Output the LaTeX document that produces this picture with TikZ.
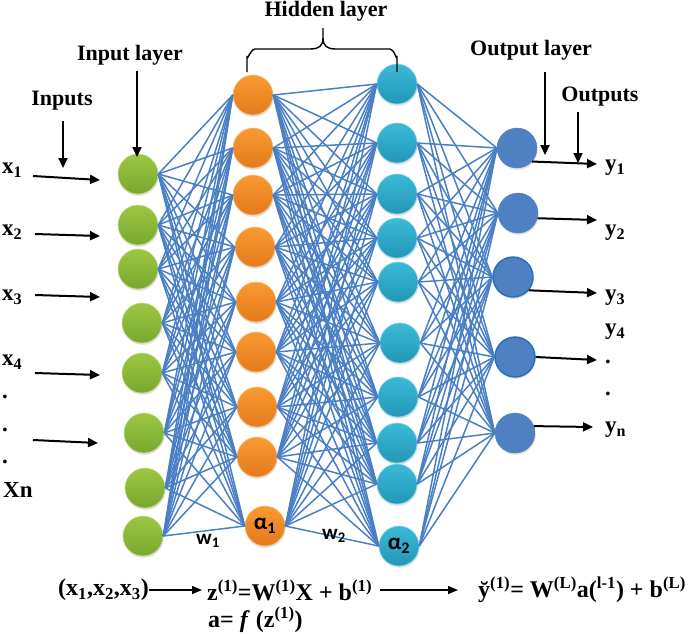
\documentclass[tikz,border=0pt]{standalone}
\usepackage{fontspec}
\setmainfont{Liberation Serif}
\newfontfamily\labelsans{Carlito}
\usetikzlibrary{arrows.meta,shadows}

\definecolor{edgeblue}{HTML}{4A7FC5}
\definecolor{greenT}{HTML}{9CC742}
\definecolor{greenB}{HTML}{78A82E}
\definecolor{orangeT}{HTML}{F99A30}
\definecolor{orangeB}{HTML}{E47A1C}
\definecolor{tealT}{HTML}{3BBAD8}
\definecolor{tealB}{HTML}{2396B6}
\definecolor{outblue}{HTML}{4F81C2}
\definecolor{outrim}{HTML}{1E6FC0}

\tikzset{
  neuron/.style={circle, minimum size=40pt, inner sep=0pt,
    drop shadow={shadow xshift=0.6pt, shadow yshift=-1.8pt, opacity=0.25}},
  inneuron/.style={neuron, top color=greenT, bottom color=greenB, draw=greenT!60!white, line width=0.6pt},
  hidA/.style={neuron, top color=orangeT, bottom color=orangeB, draw=orangeT!60!white, line width=0.6pt},
  hidB/.style={neuron, top color=tealT, bottom color=tealB, draw=tealT!60!white, line width=0.6pt},
  outneuron/.style={neuron, fill=outblue, draw=outblue},
  outrimmed/.style={outneuron, draw=outrim, line width=1.4pt},
  greek/.style={font=\labelsans\bfseries\fontsize{23}{24}\selectfont},
  link/.style={draw=edgeblue, line width=1.5pt},
  arr/.style={-{Triangle[length=10pt,width=9pt]}, line width=2pt, black},
  thinarr/.style={-{Triangle[length=10pt,width=8pt]}, line width=1.5pt, black},
  brace/.style={line width=1.4pt, black},
  heading/.style={font=\bfseries\fontsize{22}{24}\selectfont, inner sep=0pt},
  varlab/.style={font=\bfseries\fontsize{23}{26}\selectfont, inner sep=0pt, anchor=west},
  wlab/.style={font=\labelsans\bfseries\fontsize{21}{22}\selectfont, inner sep=0pt},
  formula/.style={font=\bfseries\fontsize{24}{26}\selectfont, inner sep=0pt, anchor=west},
}

\begin{document}
\begin{tikzpicture}[x=1pt, y=-1pt]
\useasboundingbox (0,0) rectangle (692,633);

% ---- input layer
\foreach \n/\x/\y in {0/138/174, 1/138/225, 2/138/269, 3/142/323,
                      4/142/373, 5/144/433, 6/145/488, 7/143/536}
  \node[inneuron] (in\n) at (\x,\y) {};

% ---- first hidden layer
\foreach \n/\x/\y in {0/253/95, 1/253/148, 2/253/195, 3/255/247,
                      4/256/302, 5/256/352, 6/257/407, 7/257/457}
  \node[hidA] (ha\n) at (\x,\y) {};
\node[hidA, greek] (ha8) at (265,526) {α\textsubscript{1}};

% ---- second hidden layer
\foreach \n/\x/\y in {0/397/84, 1/397/143, 2/397/194, 3/397/238, 4/398/282,
                      5/400/343, 6/398/397, 7/397/443, 8/397/484}
  \node[hidB] (hb\n) at (\x,\y) {};
\node[hidB, greek] (hb9) at (399,546) {α\textsubscript{2}};

% ---- output layer
\node[outneuron] (o0) at (517,148) {};
\node[outneuron] (o1) at (518,213) {};
\node[outrimmed] (o2) at (513,277) {};
\node[outrimmed] (o3) at (515,357) {};
\node[outneuron] (o4) at (515,433) {};

% ---- weights
\foreach \i in {0,...,7}
  \foreach \j in {0,...,8}
    \draw[link] (in\i.east) -- (ha\j.west);
\foreach \i in {0,...,8}
  \foreach \j in {0,...,9}
    \draw[link] (ha\i.east) -- (hb\j.west);
\foreach \i in {0,...,9}
  \foreach \j in {0,...,4}
    \draw[link] (hb\i.east) -- (o\j.west);

\node[wlab] (w1) at (208,541) {w\textsubscript{1}};
\node[wlab] (w2) at (334,536) {w\textsubscript{2}};

% ---- headings and pointers
\node[heading] (hid) at (326,11) {Hidden layer};
\draw[brace] (247,72) -- (247,57) to[out=-90,in=180] (255,49) -- (310,49)
  .. controls (319,49) and (323,46) .. (323,38) -- (323,28);
\draw[brace] (323,38) .. controls (323,46) and (327,49) .. (336,49) -- (390,49)
  to[out=0,in=-90] (397,57) -- (397,72);

\node[heading] (inl) at (130,55) {Input layer};
\coordinate (inlA) at (137,71);
\coordinate (inlB) at (137,157);
\draw[arr] (inlA) -- (inlB);

\node[heading] (inp) at (62,101) {Inputs};
\coordinate (inpA) at (63,121);
\coordinate (inpB) at (63,168);
\draw[arr] (inpA) -- (inpB);

\node[heading] (outl) at (531,50) {Output layer};
\coordinate (outlA) at (545,72);
\coordinate (outlB) at (545,155);
\draw[arr] (outlA) -- (outlB);

\node[heading] (outp) at (600,97) {Outputs};
\coordinate (outpA) at (578,112);
\coordinate (outpB) at (578,163);
\draw[arr] (outpA) -- (outpB);

% ---- input variables
\node[varlab] (x1) at (2,170) {x\textsubscript{1}};
\node[varlab] (x2) at (2,232) {x\textsubscript{2}};
\node[varlab] (x3) at (2,297) {x\textsubscript{3}};
\node[varlab] (x4) at (2,362) {x\textsubscript{4}};
\node[varlab] (d1) at (2,397) {.};
\node[varlab] (d2) at (2,430) {.};
\node[varlab] (d3) at (2,462) {.};
\node[varlab] (xn) at (3,490) {Xn};

\foreach \n/\xa/\ya/\xb/\yb in {1/33/176/100/180, 2/35/234/100/236, 3/35/295/100/297,
                                4/35/373/100/375, 5/33/440/98/443} {
  \coordinate (ia\n) at (\xa,\ya);
  \coordinate (ib\n) at (\xb,\yb);
  \draw[arr] (ia\n) -- (ib\n);
}

% ---- outputs
\coordinate (y1e) at (597,164);
\coordinate (y2e) at (597,220);
\coordinate (y3e) at (597,293);
\coordinate (y4e) at (597,360);
\coordinate (y5e) at (593,427);
\draw[arr] (o0.-42) -- (y1e);
\draw[arr] (o1.-15) -- (y2e);
\draw[arr] (o2.-40) -- (y3e);
\draw[arr] (o3.east) -- (y4e);
\draw[arr] (o4.20) -- (y5e);

\node[varlab] (y1) at (605,168) {y\textsubscript{1}};
\node[varlab] (y2) at (605,233) {y\textsubscript{2}};
\node[varlab] (y3) at (605,298) {y\textsubscript{3}};
\node[varlab] (y4) at (605,332) {y\textsubscript{4}};
\node[varlab] (e1) at (605,362) {.};
\node[varlab] (e2) at (605,394) {.};
\node[varlab] (yn) at (605,430) {y\textsubscript{n}};

% ---- forward pass equations
\node[formula] (f1) at (58,590) {(x\textsubscript{1},x\textsubscript{2},x\textsubscript{3})};
\node[formula] (f2) at (207,590) {z\textsuperscript{(1)}=W\textsuperscript{(1)}X + b\textsuperscript{(1)}};
\node[formula] (f3) at (478,590) {\u{y}\textsuperscript{(1)}= W\textsuperscript{(L)}a(\textsuperscript{l-1}) + b\textsuperscript{(L)}};
\node[formula] (f4) at (208,620) {a= \textit{f} (z\textsuperscript{(1)})};
\draw[thinarr] (f1.east) -- ([xshift=-5pt]f2.west);
\draw[thinarr] ([xshift=8pt]f2.east) -- ([xshift=-20pt]f3.west);
\end{tikzpicture}
\end{document}
